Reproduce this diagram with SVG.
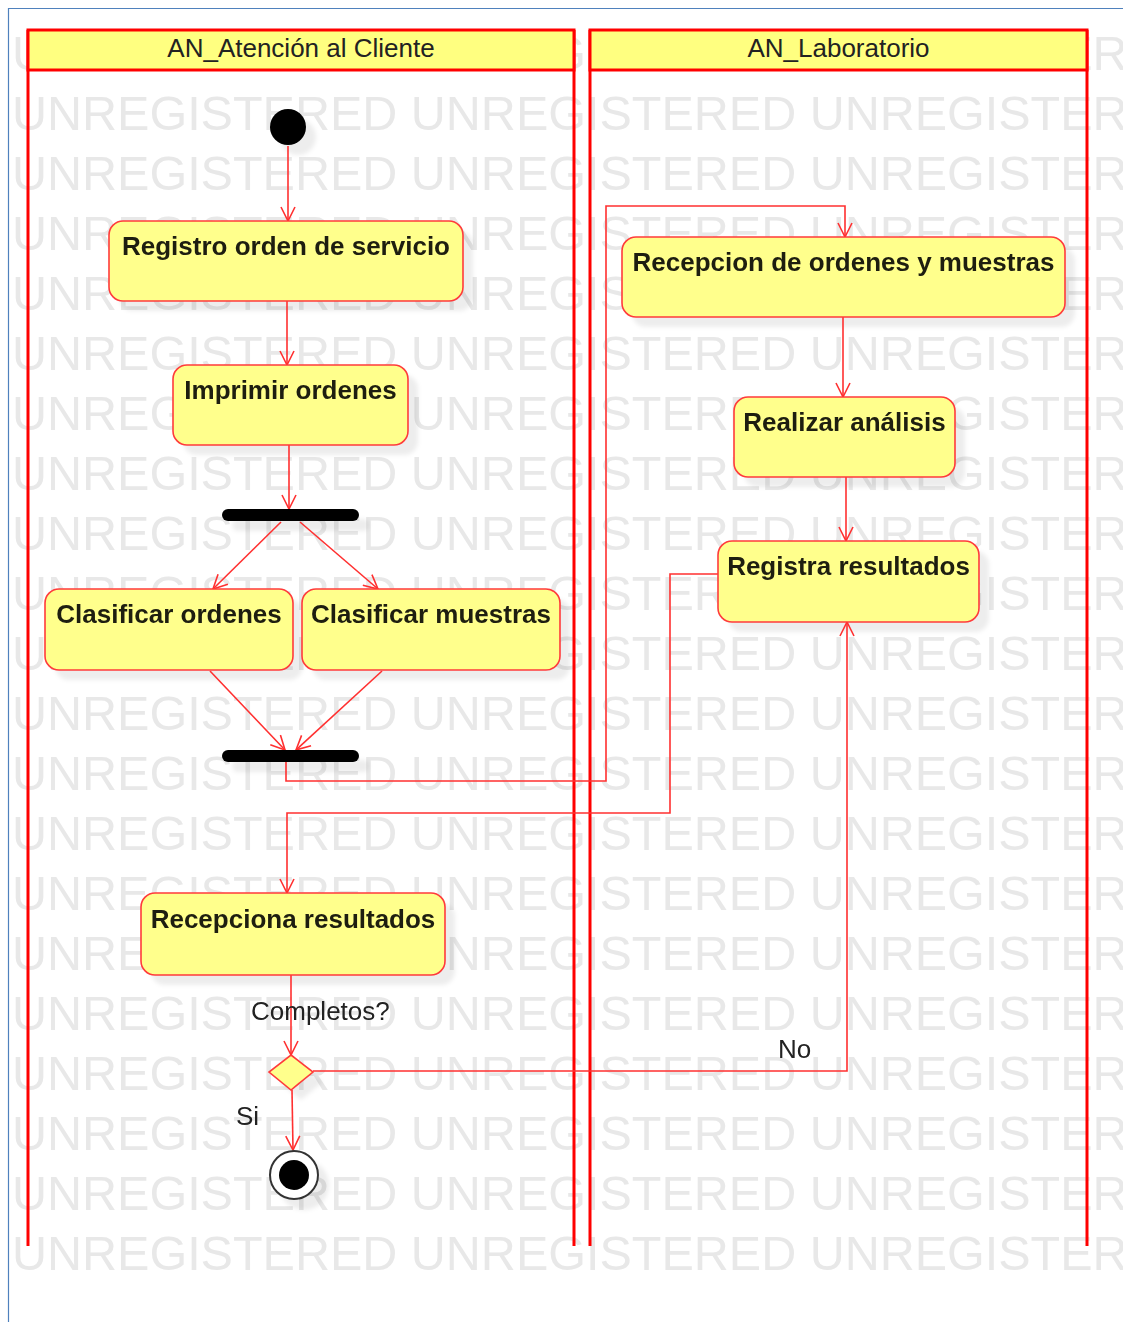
<svg xmlns="http://www.w3.org/2000/svg" width="1123" height="1322" viewBox="0 0 1123 1322">
  <style>
    .wm { font-family: "Liberation Sans", Arial, sans-serif; font-size: 48.5px; fill: #e8e8e8; }
    .hdr { fill: #ffff80; stroke: #ff0000; stroke-width: 3; }
    .lane { stroke: #ff0000; stroke-width: 3; fill: none; }
    .hdrtxt { font-family: "Liberation Sans", Arial, sans-serif; font-size: 26px; fill: #222; text-anchor: middle; }
    .act { fill: #ffff8c; stroke: #ff3b3b; stroke-width: 1.6; }
    .acttxt { font-family: "Liberation Sans", Arial, sans-serif; font-size: 26px; font-weight: bold; fill: #1e1e10; text-anchor: middle; }
    .shadow { fill: #000; opacity: 0.07; }
    .bar { fill: #000; }
    .conn { fill: none; stroke: #ff3030; stroke-width: 1.6; marker-end: url(#arrow); }
    .lbl { font-family: "Liberation Sans", Arial, sans-serif; font-size: 26px; fill: #222; }
  </style>
  <defs>
    <marker id="arrow" markerUnits="userSpaceOnUse" markerWidth="16" markerHeight="16" viewBox="0 0 16 16" refX="15" refY="8" orient="auto">
      <path d="M1,1 L15,8 L1,15" fill="none" stroke="#ff3030" stroke-width="1.6"/>
    </marker>
    <filter id="blur" x="-20%" y="-20%" width="140%" height="140%">
      <feGaussianBlur stdDeviation="2"/>
    </filter>
  </defs>

  <rect x="0" y="0" width="1123" height="1322" fill="#ffffff"/>
  <path d="M8.5,1322 L8.5,8.5 L1123,8.5" fill="none" stroke="#4f81bd" stroke-width="1.2"/>

  <g id="watermark">
    <text class="wm" x="12" y="70">UNREGISTERED UNREGISTERED UNREGISTERED</text>
    <text class="wm" x="12" y="130">UNREGISTERED UNREGISTERED UNREGISTERED</text>
    <text class="wm" x="12" y="190">UNREGISTERED UNREGISTERED UNREGISTERED</text>
    <text class="wm" x="12" y="250">UNREGISTERED UNREGISTERED UNREGISTERED</text>
    <text class="wm" x="12" y="310">UNREGISTERED UNREGISTERED UNREGISTERED</text>
    <text class="wm" x="12" y="370">UNREGISTERED UNREGISTERED UNREGISTERED</text>
    <text class="wm" x="12" y="430">UNREGISTERED UNREGISTERED UNREGISTERED</text>
    <text class="wm" x="12" y="490">UNREGISTERED UNREGISTERED UNREGISTERED</text>
    <text class="wm" x="12" y="550">UNREGISTERED UNREGISTERED UNREGISTERED</text>
    <text class="wm" x="12" y="610">UNREGISTERED UNREGISTERED UNREGISTERED</text>
    <text class="wm" x="12" y="670">UNREGISTERED UNREGISTERED UNREGISTERED</text>
    <text class="wm" x="12" y="730">UNREGISTERED UNREGISTERED UNREGISTERED</text>
    <text class="wm" x="12" y="790">UNREGISTERED UNREGISTERED UNREGISTERED</text>
    <text class="wm" x="12" y="850">UNREGISTERED UNREGISTERED UNREGISTERED</text>
    <text class="wm" x="12" y="910">UNREGISTERED UNREGISTERED UNREGISTERED</text>
    <text class="wm" x="12" y="970">UNREGISTERED UNREGISTERED UNREGISTERED</text>
    <text class="wm" x="12" y="1030">UNREGISTERED UNREGISTERED UNREGISTERED</text>
    <text class="wm" x="12" y="1090">UNREGISTERED UNREGISTERED UNREGISTERED</text>
    <text class="wm" x="12" y="1150">UNREGISTERED UNREGISTERED UNREGISTERED</text>
    <text class="wm" x="12" y="1210">UNREGISTERED UNREGISTERED UNREGISTERED</text>
    <text class="wm" x="12" y="1270">UNREGISTERED UNREGISTERED UNREGISTERED</text>
  </g>

  <g id="lane-atencion">
    <line class="lane" x1="28" y1="30" x2="28" y2="1246"/>
    <line class="lane" x1="574" y1="30" x2="574" y2="1246"/>
    <rect class="hdr" x="28" y="30" width="546" height="40"/>
    <text class="hdrtxt" x="301" y="57">AN_Atención al Cliente</text>
  </g>
  <g id="lane-laboratorio">
    <line class="lane" x1="590" y1="30" x2="590" y2="1246"/>
    <line class="lane" x1="1087" y1="30" x2="1087" y2="1246"/>
    <rect class="hdr" x="590" y="30" width="497" height="40"/>
    <text class="hdrtxt" x="838.5" y="57">AN_Laboratorio</text>
  </g>

  <g id="shadows" filter="url(#blur)">
    <circle class="shadow" cx="298" cy="137" r="18"/>
    <rect class="shadow" x="119" y="231" width="354" height="80" rx="14"/>
    <rect class="shadow" x="183" y="375" width="235" height="80" rx="14"/>
    <rect class="shadow" x="232" y="519" width="137" height="12" rx="6"/>
    <rect class="shadow" x="55" y="599" width="248" height="81" rx="14"/>
    <rect class="shadow" x="312" y="599" width="258" height="81" rx="14"/>
    <rect class="shadow" x="232" y="760" width="137" height="12" rx="6"/>
    <rect class="shadow" x="632" y="247" width="443" height="80" rx="14"/>
    <rect class="shadow" x="744" y="407" width="221" height="80" rx="14"/>
    <rect class="shadow" x="728" y="551" width="261" height="81" rx="14"/>
    <rect class="shadow" x="151" y="903" width="304" height="82" rx="14"/>
    <polygon class="shadow" points="301,1065 323,1082 301,1100 279,1082"/>
    <circle class="shadow" cx="304" cy="1185" r="25"/>
  </g>

  <g id="connectors">
    <path class="conn" d="M288,146 L288,221"/>
    <path class="conn" d="M287,301 L287,365"/>
    <path class="conn" d="M289,445 L289,509"/>
    <path class="conn" d="M281,522 L213,589"/>
    <path class="conn" d="M300,522 L378,589"/>
    <path class="conn" d="M210,671 L285,750"/>
    <path class="conn" d="M382,671 L296,750"/>
    <path class="conn" d="M286,762 L286,781 L606,781 L606,206 L845,206 L845,237"/>
    <path class="conn" d="M843,317 L843,397"/>
    <path class="conn" d="M846,477 L846,541"/>
    <path class="conn" d="M718,574 L670,574 L670,813 L287,813 L287,893"/>
    <path class="conn" d="M291,975 L291,1055"/>
    <path class="conn" d="M292,1090 L293,1150"/>
    <path class="conn" d="M313,1071 L847,1071 L847,622"/>
    <text class="lbl" x="251" y="1020">Completos?</text>
    <text class="lbl" x="236" y="1125">Si</text>
    <text class="lbl" x="778" y="1058">No</text>
  </g>

  <g id="initial">
    <circle cx="288" cy="127" r="18" fill="#000"/>
  </g>
  <g id="registro-orden">
    <rect class="act" x="109" y="221" width="354" height="80" rx="14"/>
    <text class="acttxt" x="286" y="255">Registro orden de servicio</text>
  </g>
  <g id="imprimir-ordenes">
    <rect class="act" x="173" y="365" width="235" height="80" rx="14"/>
    <text class="acttxt" x="290.5" y="399">Imprimir ordenes</text>
  </g>
  <g id="fork">
    <rect class="bar" x="222" y="509" width="137" height="12" rx="6"/>
  </g>
  <g id="clasificar-ordenes">
    <rect class="act" x="45" y="589" width="248" height="81" rx="14"/>
    <text class="acttxt" x="169" y="623">Clasificar ordenes</text>
  </g>
  <g id="clasificar-muestras">
    <rect class="act" x="302" y="589" width="258" height="81" rx="14"/>
    <text class="acttxt" x="431" y="623">Clasificar muestras</text>
  </g>
  <g id="join">
    <rect class="bar" x="222" y="750" width="137" height="12" rx="6"/>
  </g>
  <g id="recepcion-ordenes">
    <rect class="act" x="622" y="237" width="443" height="80" rx="14"/>
    <text class="acttxt" x="843.5" y="271">Recepcion de ordenes y muestras</text>
  </g>
  <g id="realizar-analisis">
    <rect class="act" x="734" y="397" width="221" height="80" rx="14"/>
    <text class="acttxt" x="844.5" y="431">Realizar análisis</text>
  </g>
  <g id="registra-resultados">
    <rect class="act" x="718" y="541" width="261" height="81" rx="14"/>
    <text class="acttxt" x="848.5" y="575">Registra resultados</text>
  </g>
  <g id="recepciona-resultados">
    <rect class="act" x="141" y="893" width="304" height="82" rx="14"/>
    <text class="acttxt" x="293" y="928">Recepciona resultados</text>
  </g>
  <g id="decision">
    <polygon class="act" points="291,1055 313,1072 291,1090 269,1072"/>
  </g>
  <g id="final">
    <circle cx="294" cy="1175" r="24" fill="#fff" stroke="#333" stroke-width="2"/>
    <circle cx="294" cy="1175" r="15" fill="#000"/>
  </g>
</svg>
